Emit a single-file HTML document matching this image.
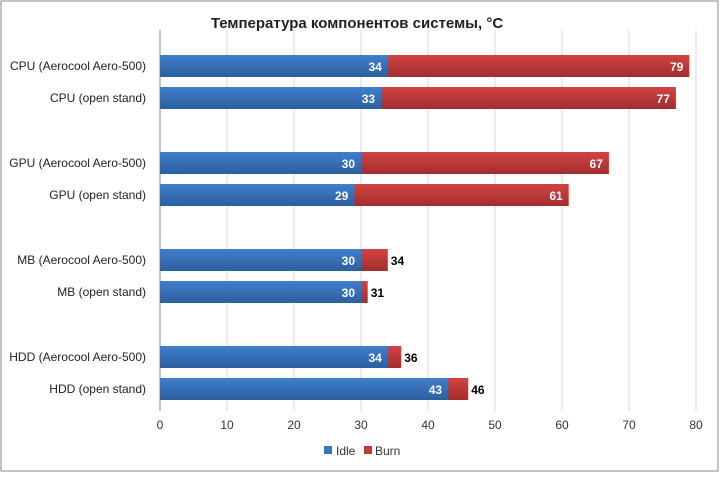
<!DOCTYPE html>
<html><head><meta charset="utf-8"><style>
body{margin:0;background:#fff;font-family:"Liberation Sans","DejaVu Sans",sans-serif}
svg text{font-family:"Liberation Sans","DejaVu Sans",sans-serif}
</style></head><body>
<svg id="c" width="720" height="473">
<defs>
<linearGradient id="gb" x1="0" y1="0" x2="0" y2="1"><stop offset="0" stop-color="#3f7fcc"/><stop offset="1" stop-color="#2d5f9e"/></linearGradient>
<linearGradient id="gr" x1="0" y1="0" x2="0" y2="1"><stop offset="0" stop-color="#d24343"/><stop offset="1" stop-color="#a02e2e"/></linearGradient>
</defs>
<rect x="1" y="1" width="717" height="470" fill="#fff" stroke="#8a8a8a"/>
<text x="357" y="28" text-anchor="middle" font-size="15" font-weight="bold" fill="#222">Температура компонентов системы, °C</text>
<g id="grid"></g><g id="bars"></g><g id="labels"></g>
</svg>
<script>
const categories=["CPU (Aerocool Aero-500)","CPU (open stand)","GPU (Aerocool Aero-500)","GPU (open stand)","MB (Aerocool Aero-500)","MB (open stand)","HDD (Aerocool Aero-500)","HDD (open stand)"];
const idle=[34,33,30,29,30,30,34,43];
const burn=[79,77,67,61,34,31,36,46];
const ticks=[0,10,20,30,40,50,60,70,80];
const rowY=[66,98,163,195,260,292,357,389];
const NS="http://www.w3.org/2000/svg";
const svg=document.getElementById('c');
function x(v){return 160+v*(696-160)/80;}
function mk(tag,attrs,parent){const e=document.createElementNS(NS,tag);for(const k in attrs)e.setAttribute(k,attrs[k]);parent.appendChild(e);return e;}
const grid=document.getElementById('grid'),bars=document.getElementById('bars'),lab=document.getElementById('labels');
ticks.forEach(t=>{
  const l=mk('line',{x1:x(t),x2:x(t),y1:30,y2:411,stroke:t===0?'#888':'#d9d9d9','stroke-width':1},grid);
  
  
  const tx=mk('text',{x:x(t),y:429,'text-anchor':'middle','font-size':12,fill:'#333'},grid);
  tx.textContent=t;
  
  
});
categories.forEach((c,i)=>{
  const y=rowY[i]-11;
  const b=mk('rect',{x:x(0),y:y,width:x(burn[i])-x(0),height:22,fill:'url(#gr)'},bars);
  
  
  const d=mk('rect',{x:x(0),y:y,width:x(idle[i])-x(0),height:22,fill:'url(#gb)'},bars);
  
  
  const cl=mk('text',{x:146,y:rowY[i]+4,'text-anchor':'end','font-size':12,fill:'#222'},lab);
  cl.textContent=c;
  
  
  const il=mk('text',{x:x(idle[i])-6,y:rowY[i]+5,'text-anchor':'end','font-size':12,'font-weight':'bold',fill:'#fff'},lab);
  il.textContent=idle[i];
  
  
  const inside=(x(burn[i])-x(idle[i]))>30;
  const bl=mk('text',{x:inside?x(burn[i])-6:x(burn[i])+3,y:rowY[i]+5,'text-anchor':inside?'end':'start','font-size':12,'font-weight':'bold',fill:inside?'#fff':'#000'},lab);
  bl.textContent=burn[i];
  
  
});
const lg=mk('g',{},svg);


const r1=mk('rect',{x:324,y:446,width:8,height:8,fill:'#3a75c0'},lg);


const t1=mk('text',{x:336,y:455,'font-size':12,fill:'#333'},lg);t1.textContent='Idle';


const r2=mk('rect',{x:364,y:446,width:8,height:8,fill:'#c03a3a'},lg);


const t2=mk('text',{x:375,y:455,'font-size':12,fill:'#333'},lg);t2.textContent='Burn';


</script>
</body></html>
